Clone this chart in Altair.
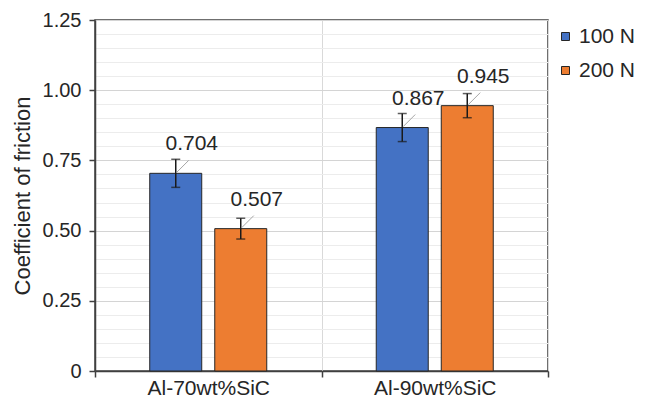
import altair as alt
import pandas as pd

# ---- data ----
materials = ["Al-70wt%SiC", "Al-70wt%SiC", "Al-90wt%SiC", "Al-90wt%SiC"]
loads = ["100 N", "200 N", "100 N", "200 N"]
cof = [0.704, 0.507, 0.867, 0.945]
err = [0.05, 0.037, 0.05, 0.043]
labels = ["0.704", "0.507", "0.867", "0.945"]

series_order = ["100 N", "200 N"]
series_colors = ["#4472C4", "#ED7D31"]
category_order = ["Al-70wt%SiC", "Al-90wt%SiC"]
y_tick_values = [0, 0.05, 0.1, 0.15, 0.2, 0.25, 0.3, 0.35, 0.4, 0.45, 0.5,
                 0.55, 0.6, 0.65, 0.7, 0.75, 0.8, 0.85, 0.9, 0.95, 1.0,
                 1.05, 1.1, 1.15, 1.2, 1.25]

df = pd.DataFrame({"material": materials, "load": loads, "cof": cof,
                   "err": err, "label": labels})
df["lo"] = df["cof"] - df["err"]
df["hi"] = df["cof"] + df["err"]

FONT = "Liberation Sans"
YTITLE = "Coefficient of friction"
major = "abs(datum.value*4 - round(datum.value*4)) < 0.001"

yscale = alt.Scale(domain=[0, 1.25], nice=False, zero=True)
y_axis = alt.Axis(values=y_tick_values, grid=True,
                  gridColor={"condition": {"test": major, "value": "#d4d4d4"}, "value": "#ececec"},
                  gridWidth=1,
                  tickOpacity={"condition": {"test": major, "value": 1}, "value": 0},
                  tickColor="#404040", tickWidth=1.5, tickSize=6,
                  domainColor="#404040", domainWidth=1.5,
                  labelExpr=f"{major} ? (datum.value == 0 ? '0' : format(datum.value, '.2f')) : ''",
                  labelOverlap=False, labelFont=FONT, labelFontSize=20,
                  labelColor="#262626", labelPadding=8,
                  titleFont=FONT, titleFontSize=22, titleFontWeight="normal",
                  titleColor="#262626", titlePadding=8)


def Y(field):
    return alt.Y(field, scale=yscale, title=YTITLE, axis=y_axis)


x_enc = alt.X("material:N", sort=category_order, title=None,
              scale=alt.Scale(paddingInner=0, paddingOuter=0),
              axis=alt.Axis(labelAngle=0, tickBand="extent", grid=True,
                            gridColor="#d9d9d9", gridWidth=1,
                            domainColor="#404040", domainWidth=1.5,
                            tickColor="#404040", tickWidth=1.5, tickSize=6,
                            labelFont=FONT, labelFontSize=21,
                            labelColor="#262626", labelBaseline="alphabetic",
                            labelPadding=17))
xo_enc = alt.XOffset("load:N", sort=series_order,
                     scale=alt.Scale(domain=series_order, paddingInner=0.2,
                                     paddingOuter=0.842))

base = alt.Chart(df).encode(x=x_enc, xOffset=xo_enc)

bars = base.mark_bar(stroke="#262626", strokeWidth=1).encode(
    y=Y("cof:Q"),
    color=alt.Color("load:N", sort=series_order,
                    scale=alt.Scale(domain=series_order, range=series_colors),
                    legend=alt.Legend(title=None, orient="none", legendX=460, legendY=6,
                                      symbolType="square", symbolSize=64,
                                      symbolStrokeColor="#262626", symbolStrokeWidth=1,
                                      labelFont=FONT, labelFontSize=21,
                                      labelColor="#262626", rowPadding=12,
                                      labelOffset=3, padding=0)),
)

err_rule = base.mark_rule(color="#1a1a1a", strokeWidth=1.5).encode(
    y=Y("lo:Q"), y2="hi:Q")
cap_lo = base.mark_tick(color="#1a1a1a", size=9, thickness=1.5).encode(y=Y("lo:Q"))
cap_hi = base.mark_tick(color="#1a1a1a", size=9, thickness=1.5).encode(y=Y("hi:Q"))

leader = base.mark_point(shape="M 0.0625 -0.0625 L 0.8125 -0.8125", size=1024,
                         filled=False, color="#a6a6a6", strokeWidth=1,
                         opacity=1).encode(y=Y("cof:Q"))

text = base.mark_text(font=FONT, fontSize=21, color="#262626", dx=16, dy=-23,
                      baseline="alphabetic", align="center").encode(
    y=Y("cof:Q"), text="label:N")

chart = alt.layer(bars, err_rule, cap_lo, cap_hi, leader, text).properties(
    width=453, height=351, autosize="none",
    padding={"left": 87, "top": 12, "right": 92, "bottom": 28},
).configure_view(stroke="#404040", strokeWidth=1.5)

chart.save("out.html", embed_options={"renderer": "svg", "actions": False})
